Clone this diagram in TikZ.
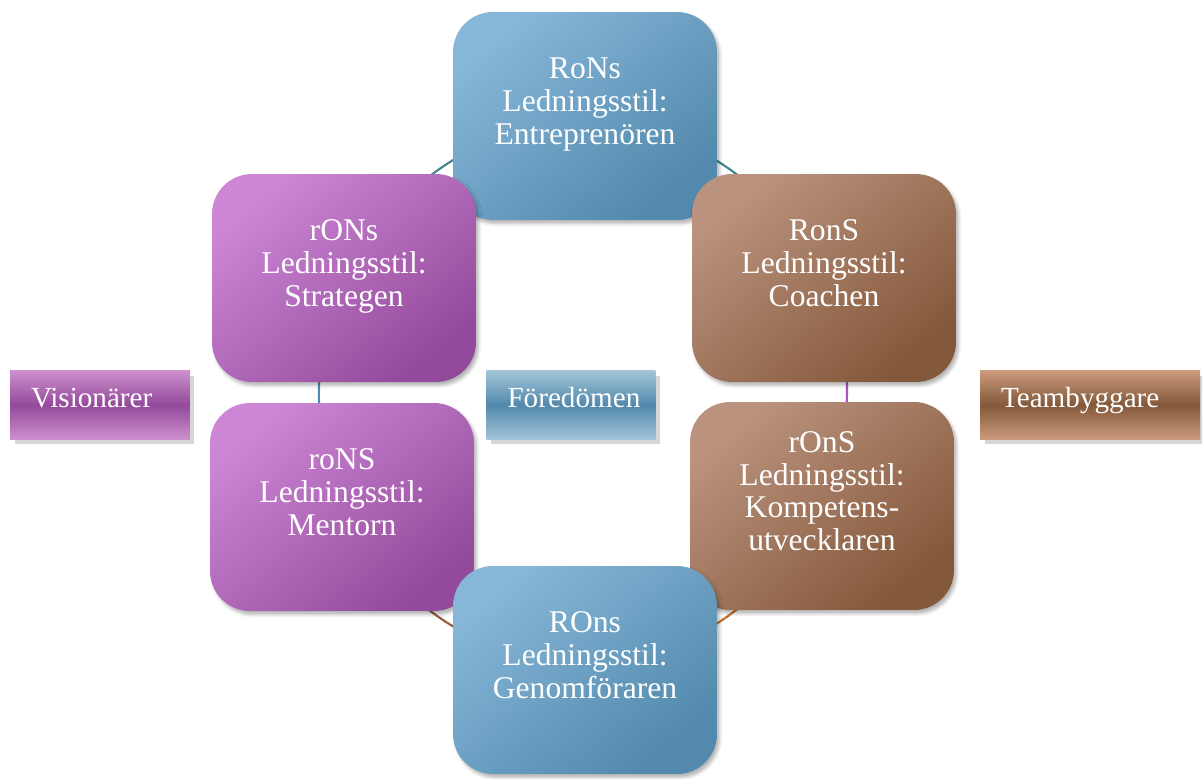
\documentclass[tikz,border=0pt]{standalone}
\usepackage{fontspec}
\setmainfont{Liberation Serif}
\usepackage{tikz}
\usetikzlibrary{shadows,shadows.blur,backgrounds}

\definecolor{blaLjus}{RGB}{134,182,216}
\definecolor{blaMork}{RGB}{82,137,172}
\definecolor{lilaLjus}{RGB}{204,134,212}
\definecolor{lilaMork}{RGB}{148,74,156}
\definecolor{brunLjus}{RGB}{186,146,126}
\definecolor{brunMork}{RGB}{132,88,58}
\definecolor{bandBla}{RGB}{162,196,216}
\definecolor{bandLila}{RGB}{204,142,204}
\definecolor{bandBrun}{RGB}{202,154,124}
\definecolor{linjeTeal}{RGB}{62,134,140}
\definecolor{linjeBla}{RGB}{78,140,182}
\definecolor{linjeLila}{RGB}{172,84,204}
\definecolor{linjeBrun}{RGB}{150,92,60}
\definecolor{linjeOrange}{RGB}{204,112,48}

\begin{document}
\begin{tikzpicture}
                    [
                        x=0.02cm, y=-0.02cm,
                        every node/.style={text=white, font=\fontsize{18}{18.7}\selectfont},
                        every path/.style={line width=1.2pt},
                        stil/.style={rounded corners=0.8cm, minimum width=5.28cm, minimum height=4.16cm,
                                     align=center, text depth=0.6cm, inner sep=0pt,
                                     blur shadow={shadow xshift=0.05cm, shadow yshift=-0.07cm, shadow opacity=30}},
                        bla/.style={stil, top color=blaLjus, bottom color=blaMork, shading angle=40},
                        lila/.style={stil, top color=lilaLjus, bottom color=lilaMork, shading angle=40},
                        brun/.style={stil, top color=brunLjus, bottom color=brunMork, shading angle=40},
                        band/.style={minimum height=1.37cm, inner xsep=0.42cm, align=left,
                                     text height=0.4cm, text depth=0.32cm,
                                     font=\fontsize{16.6}{18}\selectfont,
                                     drop shadow={shadow xshift=0.09cm, shadow yshift=-0.1cm, fill=black!16, opacity=1}}
                    ]
                    
                    % Platz
                    \useasboundingbox (0,0) rectangle (1202,778);
                    
                    \node[bla]  (rons)  at (585,116) {RoNs\\Ledningsstil:\\Entreprenören};
                    \node[lila] (rOns)  at (344,278) {rONs\\Ledningsstil:\\Strategen};
                    \node[brun] (ronS)  at (824,278) {RonS\\Ledningsstil:\\Coachen};
                    \node[lila] (roNS)  at (342,507) {roNS\\Ledningsstil:\\Mentorn};
                    \node[brun] (rOnS)  at (822,506) {rOnS\\Ledningsstil:\\Kompetens-\\utvecklaren};
                    \node[bla]  (ROns)  at (585,670) {ROns\\Ledningsstil:\\Genomföraren};
                    
                    \node[band, minimum width=3.6cm, text width=2.76cm,
                          top color=bandLila, bottom color=bandLila, middle color=lilaMork] (vis) at (100,405) {Visionärer};
                    \node[band, minimum width=3.38cm, text width=2.54cm,
                          top color=bandBla, bottom color=bandBla, middle color=blaMork] (fore) at (571,405) {Föredömen};
                    \node[band, minimum width=4.4cm, text width=3.56cm,
                          top color=bandBrun, bottom color=bandBrun, middle color=brunMork] (team) at (1090,405) {Teambyggare};
                    
                    % Ring
                    \begin{scope}[on background layer]
                        \draw[linjeTeal]   (rons.center) to[bend right=26] (rOns.center);
                        \draw[linjeBla]    (rOns.center) to[bend right=21] (roNS.center);
                        \draw[linjeBrun]   (roNS.center) to[bend right=26] (ROns.center);
                        \draw[linjeOrange] (ROns.center) to[bend right=26] (rOnS.center);
                        \draw[linjeLila]   (rOnS.center) to[bend right=21] (ronS.center);
                        \draw[linjeTeal]   (ronS.center) to[bend right=26] (rons.center);
                    \end{scope}
                \end{tikzpicture}
\end{document}
